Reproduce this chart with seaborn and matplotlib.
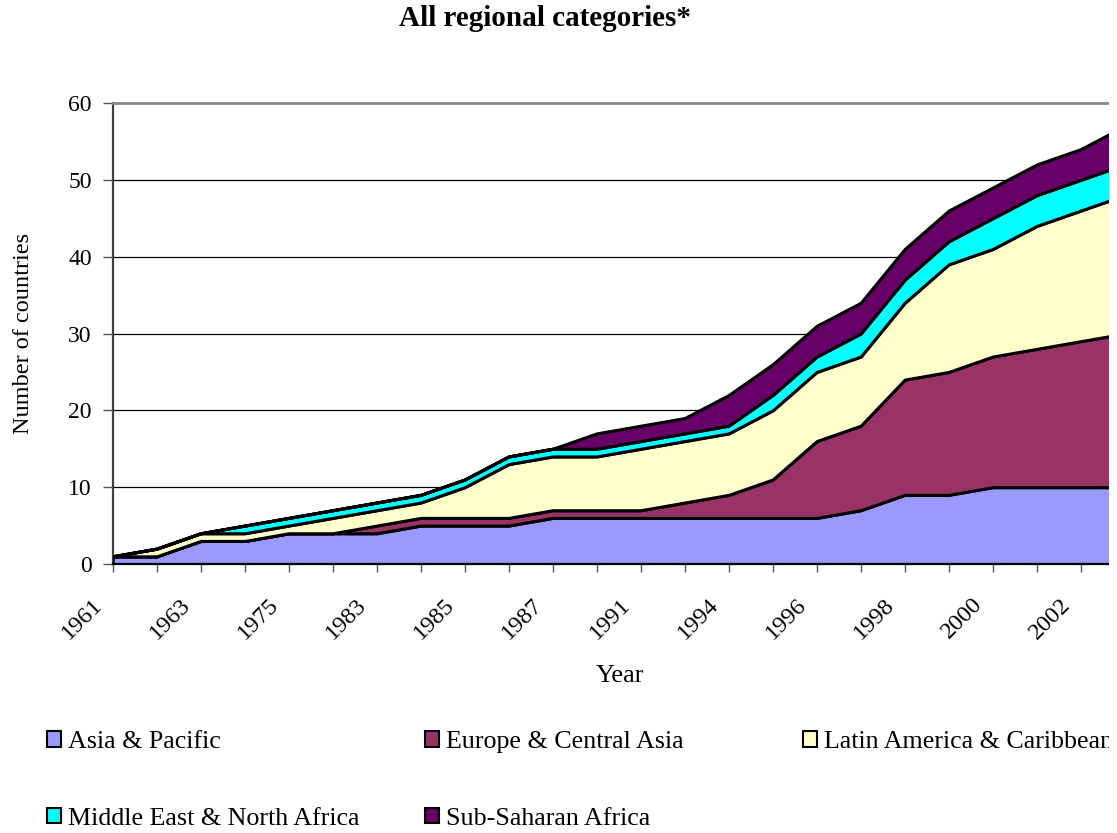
import matplotlib
matplotlib.use("Agg")
import matplotlib.pyplot as plt
from matplotlib.patches import Patch, Rectangle
from matplotlib.transforms import ScaledTranslation
import numpy as np
import pandas as pd
import seaborn as sns

# Data
years = ['1961', '1962', '1963', '1970', '1975', '1980', '1983', '1984',
         '1985', '1986', '1987', '1989', '1991', '1992', '1994', '1995',
         '1996', '1997', '1998', '1999', '2000', '2001', '2002', '2003']
asia = [1, 1, 3, 3, 4, 4, 4, 5, 5, 5, 6, 6, 6, 6, 6, 6, 6, 7, 9, 9, 10, 10, 10, 10]
europe = [0, 0, 0, 0, 0, 0, 1, 1, 1, 1, 1, 1, 1, 2, 3, 5, 10, 11, 15, 16, 17, 18, 19, 20]
latin = [0, 1, 1, 1, 1, 2, 2, 2, 4, 7, 7, 7, 8, 8, 8, 9, 9, 9, 10, 14, 14, 16, 17, 18]
mena = [0, 0, 0, 1, 1, 1, 1, 1, 1, 1, 1, 1, 1, 1, 1, 2, 2, 3, 3, 3, 4, 4, 4, 4]
ssa = [0, 0, 0, 0, 0, 0, 0, 0, 0, 0, 0, 2, 2, 2, 4, 4, 4, 4, 4, 4, 4, 4, 4, 5]

regions = ['Asia & Pacific', 'Europe & Central Asia', 'Latin America & Caribbean',
           'Middle East & North Africa', 'Sub-Saharan Africa']
colors = ['#9999FF', '#993366', '#FFFFCC', '#00FFFF', '#660066']

df = pd.DataFrame({'Year': years, regions[0]: asia, regions[1]: europe,
                   regions[2]: latin, regions[3]: mena, regions[4]: ssa})

sns.set_theme(style="white")
plt.rcParams['font.family'] = ['Liberation Serif', 'DejaVu Serif']
plt.rcParams.update({'text.color': 'black', 'axes.labelcolor': 'black',
                     'xtick.color': 'black', 'ytick.color': 'black'})
palette = sns.color_palette(colors)

fig = plt.figure(figsize=(11.17, 8.33), dpi=100)
ax = fig.add_axes([112.7 / 1117, (833 - 564) / 833, 1012 / 1117, 461 / 833])

x = np.arange(len(df))
ax.stackplot(x, [df[r] for r in regions], colors=palette,
             edgecolor='black', linewidth=2.2, zorder=3)

ax.set_xlim(0, len(df) - 1)
ax.set_ylim(0, 60)
ax.set_yticks(range(0, 61, 10))
ax.set_xticks(x)
ax.set_xticklabels([y if i % 2 == 0 else '' for i, y in enumerate(years)],
                   rotation=45, ha='right', va='top', rotation_mode='anchor')

for v in range(10, 60, 10):
    ax.axhline(v, color='black', linewidth=0.9, zorder=1)

ax.tick_params(axis='x', direction='out', length=6, width=1, color='#555555',
               labelcolor='black', labelsize=17.5, pad=12, bottom=True)
ax.tick_params(axis='y', direction='out', length=7, width=1, color='#555555',
               labelcolor='black', labelsize=17, pad=8, left=True)

# shift the slanted year labels a little left / down, as in the original
shift = ScaledTranslation(-0.21, -0.05, fig.dpi_scale_trans)
for lbl in ax.get_xticklabels():
    lbl.set_transform(lbl.get_transform() + shift)

for s in ['left', 'bottom', 'top', 'right']:
    ax.spines[s].set_visible(True)
ax.spines['left'].set_color('#404040')
ax.spines['left'].set_linewidth(1.6)
ax.spines['bottom'].set_color('black')
ax.spines['bottom'].set_linewidth(1.6)
ax.spines['bottom'].set_zorder(4)
ax.spines['top'].set_color('#888888')
ax.spines['top'].set_linewidth(2)
ax.spines['right'].set_visible(False)

ax.set_xlabel('Year', fontsize=19)
ax.xaxis.set_label_coords(0.501, -0.219)
ax.set_ylabel('Number of countries', fontsize=17.5)
ax.yaxis.set_label_coords(-0.078, 0.5)

fig.text(545 / 1117, 1 - 19 / 833, 'All regional categories*', fontsize=21,
         fontweight='bold', ha='center', va='center')

# Legend laid out in three columns like the original
handles = {r: Patch(facecolor=c, edgecolor='black', linewidth=1.5)
           for r, c in zip(regions, colors)}
columns = [([regions[0], regions[3]], 47), ([regions[1], regions[4]], 425),
           ([regions[2]], 803)]
for names, xpos in columns:
    fig.legend([handles[n] for n in names], names, loc='upper left',
               bbox_to_anchor=(xpos / 1117, 1 - 731 / 833),
               frameon=False, fontsize=18.7, borderpad=0, borderaxespad=0,
               handlelength=0.55, handleheight=0.55, handletextpad=0.25,
               labelspacing=2.1)

# the original picture is cut just before its right edge
fig.patches.append(Rectangle((1109 / 1117, 0), 8 / 1117, 1, transform=fig.transFigure,
                             facecolor='white', edgecolor='none', zorder=50))

fig.savefig('out.png', dpi=100)
